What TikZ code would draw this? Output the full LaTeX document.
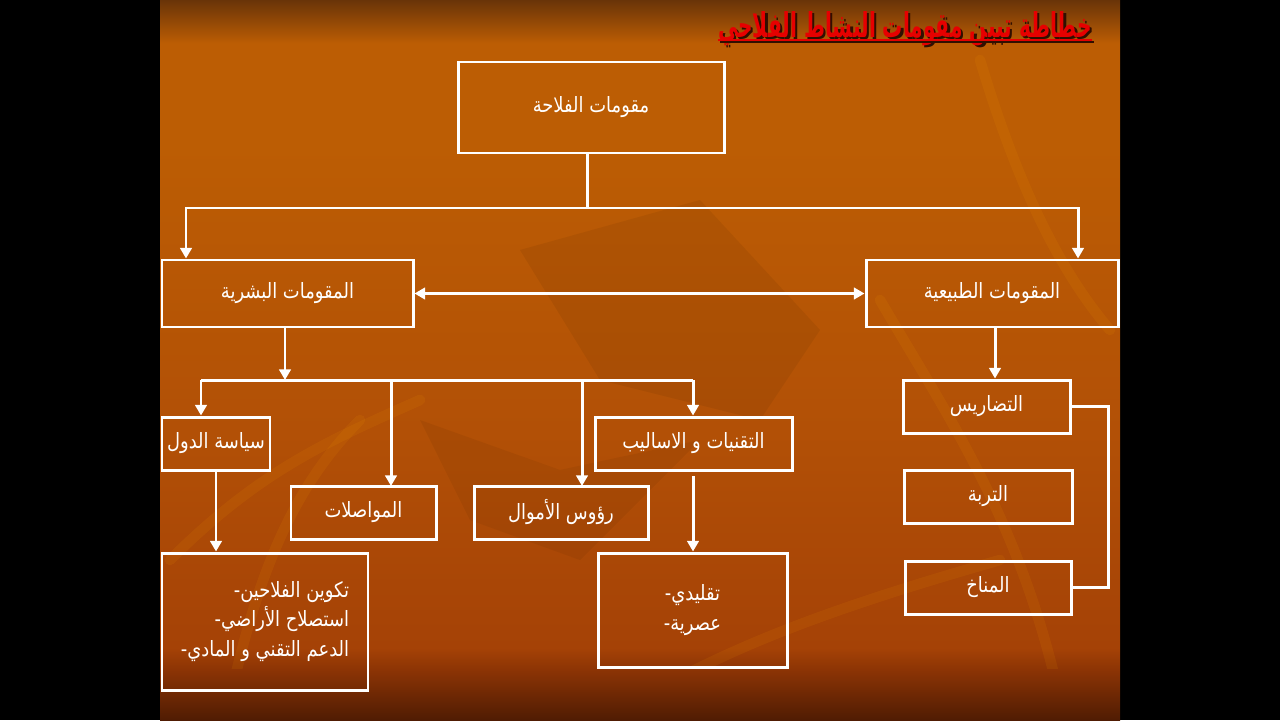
\documentclass[tikz,border=0pt]{standalone}
\usepackage{fontspec}
\usetikzlibrary{arrows.meta}
\newfontfamily\ar[Script=Arabic,FakeStretch=0.85]{DejaVu Sans}
\newfontfamily\artitle[Script=Arabic]{DejaVu Sans}
\TeXXeTstate=1
\definecolor{bgA}{RGB}{80,28,3}
\definecolor{bgB}{RGB}{140,52,5}
\definecolor{bgC}{RGB}{165,66,6}
\definecolor{bgD}{RGB}{178,80,6}
\definecolor{bgE}{RGB}{188,93,4}
\definecolor{bgF}{RGB}{105,52,8}
\definecolor{titlered}{RGB}{230,0,0}
\definecolor{shadowc}{RGB}{50,15,0}
% path covers 25bp (bottom) .. 75bp (top)
\pgfdeclareverticalshading{slidebg}{100bp}{color(0bp)=(bgA); color(25bp)=(bgA); color(28.5bp)=(bgB); color(30bp)=(bgC); color(45bp)=(bgD); color(65bp)=(bgE); color(72bp)=(bgE); color(75bp)=(bgF); color(100bp)=(bgF)}
\newcommand{\dashln}[1]{\mbox{-}\mbox{\beginR #1\endR}}
\begin{document}
\begin{tikzpicture}[x=0.02cm,y=-0.02cm,
  sz/.style 2 args={minimum width=#1*0.02cm, minimum height=#2*0.02cm},
  box/.style={draw=white, line width=1.7pt, inner sep=0pt, text=white, font=\ar\fontsize{12}{16.8}\selectfont, align=center},
  conn/.style={draw=white, line width=1.7pt},
  arr/.style={conn, -{Triangle[length=6pt,width=6.5pt]}},
  darr/.style={conn, {Triangle[length=6pt,width=6.5pt]}-{Triangle[length=6pt,width=6.5pt]}},
  deco/.style={line width=6pt, draw=orange!70!yellow, opacity=0.09, line cap=round}]
% canvas
\fill[black] (0,0) rectangle (1280,720);
\shade[shading=slidebg] (160,0) rectangle (1120,720);
\begin{scope}
\clip (160,0) rectangle (1120,668);
\fill[black, opacity=0.06] (520,250) -- (700,200) -- (820,330) -- (760,420) -- (600,380) -- cycle;
\fill[black, opacity=0.05] (420,420) -- (560,470) -- (700,440) -- (580,560) -- (470,520) -- cycle;
\draw[deco] (170,560) .. controls (260,470) and (330,440) .. (420,400);
\draw[deco] (230,700) .. controls (260,560) and (300,480) .. (360,420);
\draw[deco] (880,300) .. controls (950,420) and (1020,520) .. (1060,700);
\draw[deco] (980,60) .. controls (1010,160) and (1050,260) .. (1110,330);
\draw[deco] (640,700) .. controls (740,640) and (860,600) .. (1000,560);
\end{scope}
% title
\node[text=shadowc, inner sep=0pt, anchor=north] at (907.5,13.5) {\resizebox{7.48cm}{0.52cm}{\artitle\bfseries\fontsize{16}{20}\selectfont\beginR خطاطة تبين مقومات النشاط الفلاحي\endR}};
\node[text=titlered, inner sep=0pt, anchor=north] (title) at (905,11) {\resizebox{7.48cm}{0.52cm}{\artitle\bfseries\fontsize{16}{20}\selectfont\beginR خطاطة تبين مقومات النشاط الفلاحي\endR}};
\coordinate (ulA) at (718,40);
\coordinate (ulB) at (1092,40);
\draw[shadowc, line width=1.5pt] ([shift={(2,2)}]ulA) -- ([shift={(2,2)}]ulB);
\draw[titlered, line width=1.5pt] (ulA) -- (ulB);
% boxes
\node[box, sz={266}{91}] (top) at (591,107.5) {\beginR مقومات الفلاحة\endR};
\node[box, sz={251}{67}] (bash) at (287.5,293.5) {\beginR المقومات البشرية\endR};
\node[box, sz={252}{67}] (tabi) at (992,293.5) {\beginR المقومات الطبيعية\endR};
\node[box, sz={108}{53}] (siyasa) at (216,443.5) {\beginR سياسة الدول\endR};
\node[box, sz={145}{53}] (muwas) at (363.5,512.5) {\beginR المواصلات\endR};
\node[box, sz={174}{53}] (ruus) at (561,512.5) {\beginR رؤوس الأموال\endR};
\node[box, sz={197}{53}] (taqn) at (693.5,443.5) {\beginR التقنيات و الاساليب\endR};
\node[box, sz={206}{137}, align=right] (bl) at (265,621.5) {\dashln{تكوين الفلاحين}\\ \dashln{استصلاح الأراضي}\\ \dashln{الدعم التقني و المادي}};
\node[box, sz={189}{114}] (br) at (692.5,610) {\dashln{تقليدي}\\ \dashln{عصرية}};
\node[box, sz={167}{53}] (tad) at (986.5,406.5) {\beginR التضاريس\endR};
\node[box, sz={168}{53}] (turba) at (988,496.5) {\beginR التربة\endR};
\node[box, sz={166}{53}] (munakh) at (988,587.5) {\beginR المناخ\endR};
% connectors top level
\coordinate (j1) at (587,208);
\coordinate (jl) at (186,208);
\coordinate (jr) at (1078,208);
\draw[conn] (top.south -| j1) -- (j1);
\draw[arr] (j1) -- (jl) -- (jl |- bash.north);
\draw[arr] (j1) -- (jr) -- (jr |- tabi.north);
\draw[darr] (bash.east) -- (tabi.west);
% human side
\coordinate (h0) at (285,380);
\coordinate (hl) at (201,380);
\coordinate (hr) at (693,380);
\draw[arr] (bash.south -| h0) -- (h0);
\draw[conn] (hl) -- (hr);
\draw[arr] (hl) -- (hl |- siyasa.north);
\draw[arr] (391,380) -- (391,486);
\draw[arr] (582,380) -- (582,486);
\draw[arr] (hr) -- (hr |- taqn.north);
\draw[arr] (siyasa.south) -- (siyasa.south |- bl.north);
\coordinate (tq) at (693,476);
\draw[arr] (tq) -- (tq |- br.north);
% natural side
\coordinate (n0) at (995,327);
\draw[arr] (n0) -- (n0 |- tad.north);
\coordinate (bk) at (1108,0);
\draw[conn] (tad.east) -- (tad.east -| bk) -- (munakh.east -| bk) -- (munakh.east);
\end{tikzpicture}
\end{document}
